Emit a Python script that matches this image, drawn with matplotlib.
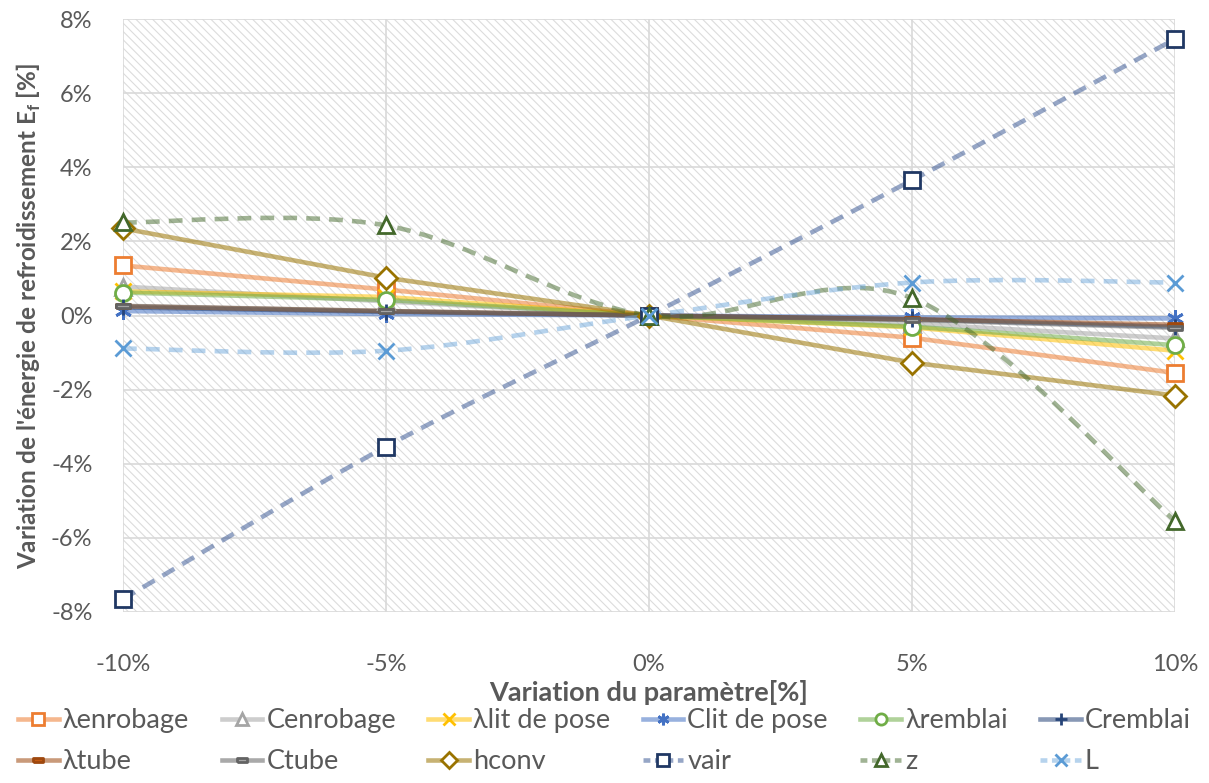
import numpy as np
import matplotlib
matplotlib.use('Agg')
import matplotlib.pyplot as plt
from matplotlib.path import Path
from matplotlib.patches import PathPatch, Rectangle
from matplotlib.lines import Line2D
from matplotlib.legend_handler import HandlerTuple

# Data (variation in %)
xvals = [-10, -5, 0, 5, 10]
lam_enrob = [1.35, 0.70, 0, -0.60, -1.55]
C_enrob   = [0.78, 0.38, 0, -0.22, -0.62]
lam_lit   = [0.65, 0.50, 0, -0.32, -0.95]
C_lit     = [0.12, 0.04, 0, -0.05, -0.08]
lam_remb  = [0.62, 0.42, 0, -0.30, -0.80]
C_remb    = [0.22, 0.10, 0, -0.10, -0.30]
lam_tube  = [0.25, 0.12, 0, -0.10, -0.25]
C_tube    = [0.26, 0.12, 0, -0.12, -0.33]
hconv     = [2.35, 1.02, 0, -1.27, -2.16]
vair      = [-7.65, -3.54, 0, 3.65, 7.46]
z         = [2.51, 2.43, 0, 0.47, -5.54]
L         = [-0.89, -0.95, 0, 0.89, 0.89]

names = ['λenrobage', 'Cenrobage', 'λlit de pose', 'Clit de pose', 'λremblai', 'Cremblai',
         'λtube', 'Ctube', 'hconv', 'vair', 'z', 'L']
series = [lam_enrob, C_enrob, lam_lit, C_lit, lam_remb, C_remb,
          lam_tube, C_tube, hconv, vair, z, L]

dash = [(-1, -0.35), (1, -0.35), (1, 0.35), (-1, 0.35), (-1, -0.35)]
# (line colour, marker edge, marker face, marker, dashed/smoothed)
styles = [
    ('#ED7D31', '#ED7D31', 'white', 's', False),
    ('#A5A5A5', '#A5A5A5', 'white', '^', False),
    ('#FFC000', '#FFC000', 'white', 'x', False),
    ('#4472C4', '#4472C4', 'white', (6, 2, 0), False),
    ('#70AD47', '#70AD47', 'white', 'o', False),
    ('#264478', '#264478', 'white', '+', False),
    ('#9E480E', '#9E480E', '#C55A11', dash, False),
    ('#636363', '#636363', '#A5A5A5', dash, False),
    ('#997300', '#997300', 'white', 'D', False),
    ('#2F4F8F', '#203864', 'white', 's', True),
    ('#43682B', '#43682B', 'white', '^', True),
    ('#6FA8DC', '#5B9BD5', 'white', 'x', True),
]

plt.rcParams['font.family'] = ['Lato', 'DejaVu Sans']
txtcol = '#595959'

fig = plt.figure(figsize=(12.09, 7.83), dpi=100)
ax = fig.add_axes([123/1209, 1-612/783, (1175-123)/1209, (612-19)/783])
ax.set_xlim(-10, 10)
ax.set_ylim(-8, 8)

# hatched background
plt.rcParams['hatch.linewidth'] = 0.8
bg = Rectangle((0, 0), 1, 1, transform=ax.transAxes, facecolor='white',
               edgecolor='#DCDCDC', hatch='\\\\\\\\', lw=0, zorder=0)
ax.add_patch(bg)

ax.set_xticks(xvals)
ax.set_xticklabels(['{}%'.format(v) for v in xvals])
yt = list(range(-8, 9, 2))
ax.set_yticks(yt)
ax.set_yticklabels(['{}%'.format(v) for v in yt])
ax.grid(color='#D9D9D9', lw=1.2, zorder=1)
ax.set_axisbelow(True)
for s in ax.spines.values():
    s.set_visible(False)
ax.tick_params(length=0, labelsize=17, colors=txtcol)
ax.tick_params(axis='x', pad=30)
ax.tick_params(axis='y', pad=22)


def smooth_path(xs, ys):
    # Excel-style smoothed line (Catmull-Rom as cubic Bezier)
    pts = list(zip(xs, ys))
    verts = [pts[0]]
    codes = [Path.MOVETO]
    n = len(pts)
    for i in range(n - 1):
        p0 = pts[i - 1] if i > 0 else pts[i]
        p1 = pts[i]
        p2 = pts[i + 1]
        p3 = pts[i + 2] if i + 2 < n else pts[i + 1]
        c1 = (p1[0] + (p2[0] - p0[0]) / 6, p1[1] + (p2[1] - p0[1]) / 6)
        c2 = (p2[0] - (p3[0] - p1[0]) / 6, p2[1] - (p3[1] - p1[1]) / 6)
        verts += [c1, c2, p2]
        codes += [Path.CURVE4] * 3
    return Path(verts, codes)


handles = []
lw = 3.3
for name, ys, (lc, mec, mfc, mk, dashed) in zip(names, series, styles):
    if dashed:
        patch = PathPatch(smooth_path(xvals, ys), fill=False, edgecolor=lc, lw=lw,
                          alpha=0.5, linestyle=(0, (3, 2)), zorder=3)
        ax.add_patch(patch)
        lh = Line2D([], [], color=lc, lw=lw, alpha=0.5, linestyle=(0, (1.5, 1)))
    else:
        lh, = ax.plot(xvals, ys, color=lc, lw=lw, alpha=0.55, zorder=3)
    ms = 11.5
    if mk in ('x', '+') or isinstance(mk, tuple):
        ms = 12
    if mk is dash:
        ms = 9.5
    mh, = ax.plot(xvals, ys, linestyle='none', marker=mk, ms=ms, mec=mec, mfc=mfc,
                  mew=2, zorder=4, clip_on=False)
    handles.append((lh, mh))

ax.set_ylabel("Variation de l'énergie de refroidissement E$_\\mathregular{f}$ [%]",
              fontsize=17.5, fontweight='bold', color=txtcol, labelpad=6)
ax.set_xlabel('Variation du paramètre[%]', fontsize=19.5, fontweight='bold',
              color=txtcol, labelpad=4)

# legend: 2 rows x 6 cols, row-major order
order = []
for c in range(6):
    order += [c, c + 6]
leg = fig.legend([handles[i] for i in order], [names[i] for i in order],
                 handler_map={tuple: HandlerTuple(ndivide=1, pad=0)},
                 loc='lower center', bbox_to_anchor=(0.5, -0.02), ncol=6,
                 frameon=False, fontsize=19.5, handlelength=1.5, handletextpad=0.15,
                 columnspacing=1.2, labelspacing=0.6, markerscale=0.7)
for t in leg.get_texts():
    t.set_color(txtcol)

fig.savefig('out.png', dpi=100)
